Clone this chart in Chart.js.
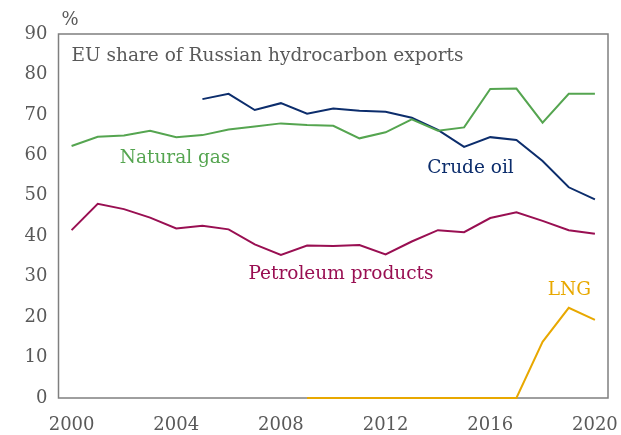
<!DOCTYPE html>
<html>
<head>
<meta charset="utf-8">
<script src="https://cdn.jsdelivr.net/npm/chart.js@4"></script>
<style>
html,body{margin:0;padding:0;background:#fff;}
#wrap{width:621px;height:435px;position:relative;}
</style>
</head>
<body>
<div id="wrap"><canvas id="c" width="621" height="435"></canvas></div>
<script>
const years = ['2000','2001','2002','2003','2004','2005','2006','2007','2008','2009','2010','2011','2012','2013','2014','2015','2016','2017','2018','2019','2020'];
const naturalGas = [62.3,64.6,64.9,66.1,64.5,65.0,66.4,67.1,67.9,67.5,67.3,64.2,65.7,68.9,66.1,66.9,76.4,76.5,68.1,75.2,75.2];
const crudeOil = [null,null,null,null,null,73.9,75.2,71.2,72.9,70.3,71.6,71.0,70.8,69.3,66.3,62.1,64.5,63.8,58.6,52.1,49.1];
const petroleum = [41.5,48.0,46.7,44.6,41.9,42.6,41.7,38.0,35.4,37.7,37.6,37.8,35.5,38.7,41.5,41.0,44.5,45.9,43.8,41.5,40.6];
const lng = [null,null,null,null,null,null,null,null,null,0,0,0,0,0,0,0,0,0,13.9,22.3,19.3];
const yTicks = [0,10,20,30,40,50,60,70,80,90];

const FONT = "'DejaVu Serif', serif";
const GREY = '#595959';
const COLORS = {gas:'#55a550', oil:'#0c2d6c', pet:'#990f52', lng:'#e8a800'};

const labels = [
  {text:'Natural gas', x:1.84, y:59.3, color:COLORS.gas},
  {text:'Crude oil', x:13.59, y:56.9, color:COLORS.oil},
  {text:'Petroleum products', x:6.76, y:30.7, color:COLORS.pet},
  {text:'LNG', x:18.2, y:26.7, color:COLORS.lng}
];

const overlay = {
  id:'overlay',
  beforeDatasetsDraw(chart){
    const ctx = chart.ctx, a = chart.chartArea;
    ctx.save();
    ctx.strokeStyle = '#7f7f7f';
    ctx.lineWidth = 1.5;
    ctx.strokeRect(a.left, a.top, a.right - a.left, a.bottom - a.top);
    ctx.restore();
  },
  afterDraw(chart){
    const ctx = chart.ctx, a = chart.chartArea;
    const xs = chart.scales.x, ys = chart.scales.y;
    ctx.save();
    ctx.font = '18.5px ' + FONT;
    ctx.textBaseline = 'middle';
    ctx.textAlign = 'left';
    labels.forEach(l => {
      ctx.fillStyle = l.color;
      ctx.fillText(l.text, xs.getPixelForValue(l.x), ys.getPixelForValue(l.y));
    });
    ctx.fillStyle = GREY;
    ctx.fillText('EU share of Russian hydrocarbon exports', xs.getPixelForValue(0), a.top + 22);
    ctx.font = '18px ' + FONT;
    ctx.fillText('%', a.left + 3, a.top - 14);
    ctx.restore();
  }
};

const ds = (data, color) => ({data, borderColor:color, borderWidth:2, pointRadius:0, tension:0, fill:false, spanGaps:false, clip:false});

new Chart(document.getElementById('c'), {
  type:'line',
  data:{labels:years, datasets:[ds(naturalGas,COLORS.gas), ds(crudeOil,COLORS.oil), ds(petroleum,COLORS.pet), ds(lng,COLORS.lng)]},
  options:{
    responsive:false, animation:false,
    layout:{padding:{top:34, right:13, left:0, bottom:0}},
    plugins:{legend:{display:false}, tooltip:{enabled:false}},
    scales:{
      x:{
        type:'category', offset:true,
        grid:{display:false, drawTicks:false},
        border:{display:false},
        ticks:{autoSkip:false, maxRotation:0, padding:17, color:GREY, font:{family:FONT, size:18}},
        afterTickToLabelConversion(s){ s.ticks.forEach((t, i) => { t.label = i % 4 === 0 ? years[i] : ''; }); },
        afterFit(s){ s.height = 37; s.paddingLeft = 0; s.paddingRight = 0; }
      },
      y:{
        min:0, max:90,
        grid:{display:false, drawTicks:false},
        border:{display:false},
        afterBuildTicks(s){ s.ticks = yTicks.map(v => ({value:v})); },
        ticks:{padding:11, color:GREY, font:{family:FONT, size:18}},
        afterFit(s){ s.width = 58.5; s.paddingTop = 0; s.paddingBottom = 0; }
      }
    }
  },
  plugins:[overlay]
});
</script>
</body>
</html>
